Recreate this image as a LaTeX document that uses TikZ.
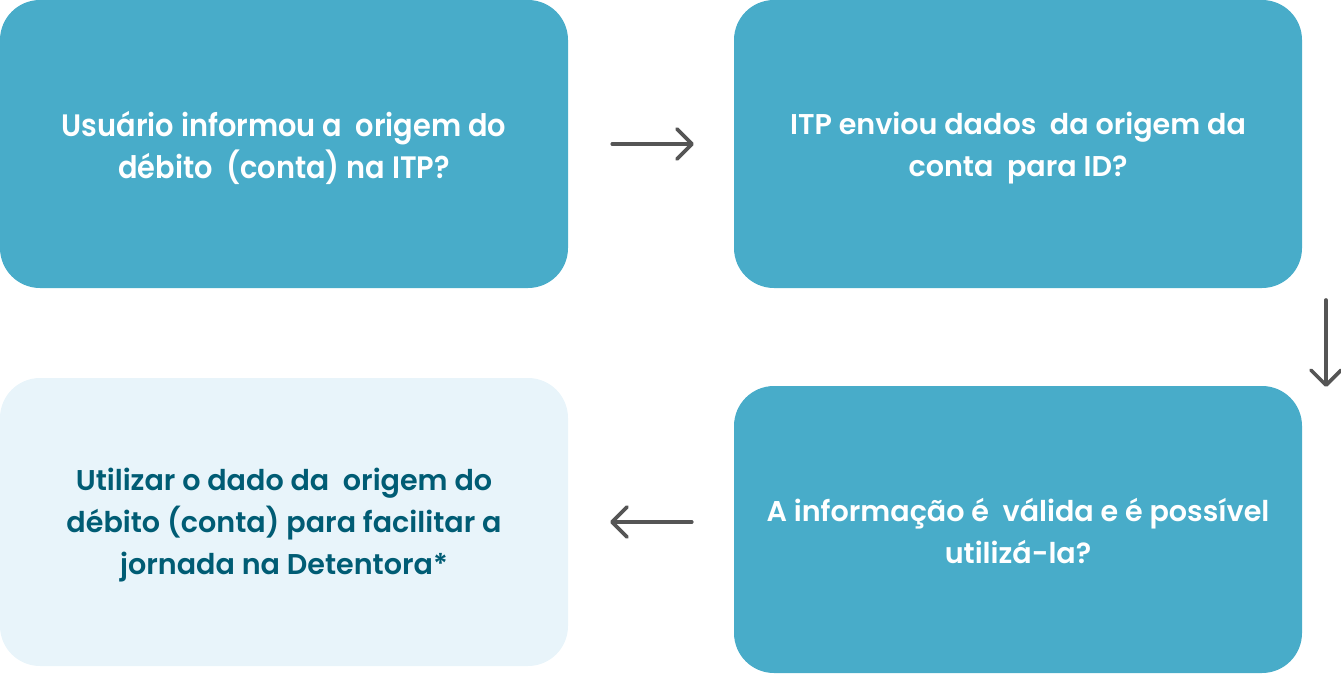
\documentclass[tikz,border=0pt]{standalone}
\usepackage{fontspec}
\setmainfont{Poppins}[UprightFont=* SemiBold, BoldFont=* Bold]
\newfontfamily\condfont{Poppins}[UprightFont=* SemiBold, FakeStretch=0.93]
\usetikzlibrary{arrows.meta}
\definecolor{boxblue}{HTML}{48ACC9}
\definecolor{boxlight}{HTML}{E8F4FA}
\definecolor{darktext}{HTML}{005C74}
\definecolor{arrowgray}{HTML}{555555}
\begin{document}
\begin{tikzpicture}[x=1pt,y=-1pt,
  card/.style={rounded corners=40pt, minimum width=568pt, minimum height=288pt,
    inner sep=0pt},
  bluecard/.style={card, fill=boxblue},
  lightcard/.style={card, fill=boxlight},
  cardtext/.style={inner sep=0pt, align=center, font=\fontsize{28.6}{42}\selectfont},
  whitetext/.style={cardtext, text=white},
  darkcardtext/.style={cardtext, text=darktext},
  flow/.style={draw=arrowgray, line width=3.6pt, line cap=round,
    -{Straight Barb[length=15pt, width=30pt, line width=3.6pt, round]}}
]
\useasboundingbox (0,0) rectangle (1341,674);
\node[bluecard] (b1) at (284,144) {};
\node[bluecard] (b2) at (1018,144) {};
\node[bluecard, minimum height=287pt] (b3) at (1018,529.5) {};
\node[lightcard] (b4) at (284,522) {};
\node[whitetext, font=\condfont\fontsize{31}{42}\selectfont] (t1) at ([yshift=-4pt]b1.center) {Usuário informou a~ origem do\\débito~ (conta) na ITP?};
\node[whitetext] (t2) at ([yshift=-4pt]b2.center) {ITP enviou dados~ da origem da\\conta~ para ID?};
\node[whitetext] (t3) at ([yshift=-1.5pt]b3.center) {A informação é~ válida e é possível\\utilizá-la?};
\node[darkcardtext] (t4) at ([yshift=-3pt]b4.center) {Utilizar o dado da~ origem do\\débito (conta) para facilitar a\\jornada na Detentora*};
\draw[flow, shorten <=44pt, shorten >=40pt] (b1.east) -- (b2.west);
\coordinate (d1) at (1326,300);
\coordinate (d2) at (1326,387);
\draw[flow] (d1) -- (d2);
\draw[flow, shorten <=42pt, shorten >=42pt] (b3.west |- b4.east) -- (b4.east);
\end{tikzpicture}
\end{document}
